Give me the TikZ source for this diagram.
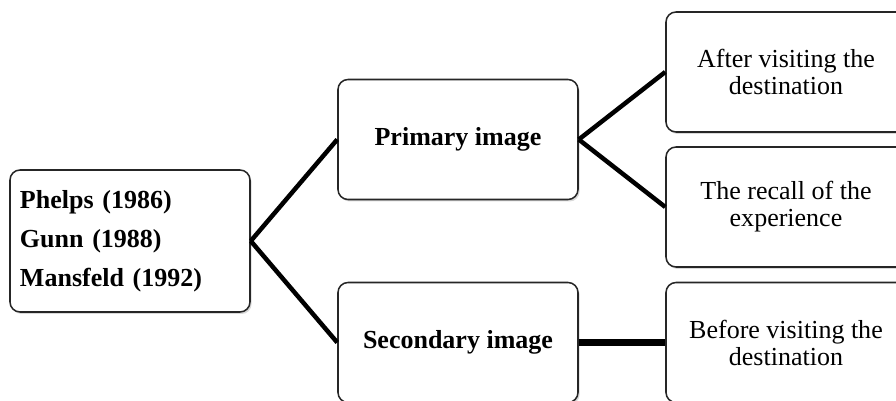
\documentclass[tikz,border=0pt]{standalone}
\usepackage{fontspec}
\setmainfont{Liberation Serif}
\usepackage{tikz}
\usetikzlibrary{shadows}

\begin{document}
\begin{tikzpicture}[
        box/.style={draw=black!85, line width=1.1pt, rounded corners=0.25cm, fill=white,
            minimum width=6cm, minimum height=3cm, align=center,
            font=\fontsize{18.5}{19.2}\selectfont,
            drop shadow={opacity=0.3, shadow xshift=0.04cm, shadow yshift=-0.05cm}},
        rootbox/.style={box, minimum height=3.55cm, text width=5.5cm, inner xsep=0.25cm,
            align=left, font=\fontsize{18.5}{27.7}\selectfont\bfseries},
        grow'=right,
        level distance=8.2cm,
        level 1/.style={sibling distance=5.075cm},
        level 2/.style={sibling distance=3.375cm},
        edge from parent/.style={draw, line width=3.2pt},
        edge from parent path={(\tikzparentnode.east) -- (\tikzchildnode.west)}
    ]
    \useasboundingbox (-3.25,-4.0) rectangle (19.15,6.025);
    \clip (-3.25,-4.0) rectangle (19.15,6.025);
    \node[rootbox] (authors) {Phelps (1986)\\Gunn (1988)\\Mansfeld (1992)}
        child {
            node[box, font=\fontsize{18.5}{19.2}\selectfont\bfseries] (primary) {Primary image}
            child {
                node[box] (after) {After visiting the\\destination}
            }
            child {
                node[box] (recall) {The recall of the\\experience}
            }
        }
        child {
            node[box, font=\fontsize{18.5}{19.2}\selectfont\bfseries] (secondary) {Secondary image}
            child {
                node[box] (before) {Before visiting the\\destination}
                edge from parent[line width=4.5pt]
            }
        };
\end{tikzpicture}
\end{document}
